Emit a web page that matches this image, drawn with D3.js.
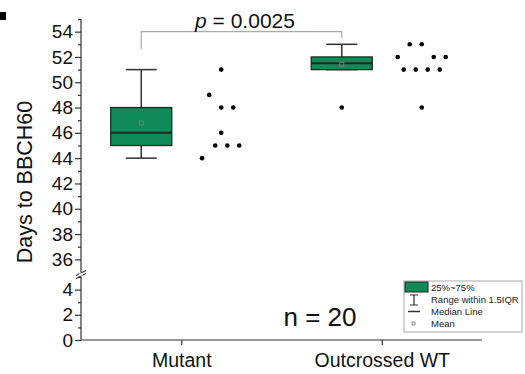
<!DOCTYPE html>
<html>
<head>
<meta charset="utf-8">
<script src="https://cdn.jsdelivr.net/npm/d3@7"></script>
<style>
  body { margin: 0; background: #fff; }
  svg { display: block; font-family: Arial, "Liberation Sans", sans-serif; }
</style>
</head>
<body>
<svg id="chart" width="525" height="374"></svg>
<script>
// Categories and raw observations (days to BBCH60)
const categories = ["Mutant", "Outcrossed WT"];
const mutantDays = [51, 49, 48, 48, 46, 45, 45, 45, 44];
const wtDays = [53, 53, 52, 52, 52, 51, 51, 51, 51, 48];
// Column slot of each point in the side scatter (same order as values)
const mutantSlots = [0, -1, 0, 1, 0, -0.5, 0.5, 1.5, -1.6];
const wtSlots = [-1, 0, -2, 1, 2, -1.5, -0.5, 0.5, 1.5, 0];
// Axis tick values for the two segments of the broken axis
const upperTicks = [36, 38, 40, 42, 44, 46, 48, 50, 52, 54];
const lowerTicks = [0, 2, 4];
const pLabel = "0.0025";
const nLabel = "n = 20";
const legendItems = ["25%~75%", "Range within 1.5IQR", "Median Line", "Mean"];

const groups = [
  { name: categories[0], values: mutantDays, slots: mutantSlots },
  { name: categories[1], values: wtDays, slots: wtSlots }
];

const svg = d3.select("#chart");
const GREEN = "#0f8a59";
const DARK = "#1c2b22";
const FONT = "Arial, 'Liberation Sans', sans-serif";

// Scales
const x = d3.scalePoint().domain(categories).range([81, 482]).padding(0.5);
const yUp = d3.scaleLinear().domain([35, 55]).range([272, 19]);
const yLo = d3.scaleLinear().domain([0, 5]).range([340, 277]);
const fmt = d3.format("d");

// Panel marker
svg.append("rect").attr("x", 0).attr("y", 12).attr("width", 6).attr("height", 8).attr("fill", "#000");

// Y axis, upper segment
const axUp = svg.append("g").attr("transform", "translate(81,0)")
  .call(d3.axisLeft(yUp).tickValues(upperTicks).tickFormat(fmt).tickSize(6).tickPadding(2).tickSizeOuter(0));
axUp.select(".domain").attr("d", `M0,${yUp(55)}V${yUp(35)}`);
svg.append("g").attr("transform", "translate(81,0)")
  .call(d3.axisLeft(yUp).tickValues(d3.range(37, 56, 2)).tickSize(3).tickFormat("").tickSizeOuter(0))
  .select(".domain").remove();

// Y axis, lower segment
const axLo = svg.append("g").attr("transform", "translate(81,0)")
  .call(d3.axisLeft(yLo).tickValues(lowerTicks).tickFormat(fmt).tickSize(6).tickPadding(2).tickSizeOuter(0));
axLo.select(".domain").attr("d", `M0,${yLo(5)}V${yLo(0)}`);
svg.append("g").attr("transform", "translate(81,0)")
  .call(d3.axisLeft(yLo).tickValues([1, 3, 5]).tickSize(3).tickFormat("").tickSizeOuter(0))
  .select(".domain").remove();

svg.selectAll(".tick text").attr("font-size", 19).attr("fill", "#111").attr("font-family", FONT);
svg.selectAll(".tick line, .domain").attr("stroke", "#333").attr("stroke-width", 1.2);

// Axis break marks
[yUp(35) + 1, yLo(5) - 1].forEach(yy => {
  svg.append("line").attr("x1", 76).attr("x2", 86).attr("y1", yy + 2.5).attr("y2", yy - 2.5)
    .attr("stroke", "#333").attr("stroke-width", 1.2);
});
svg.append("rect").attr("x", 79).attr("y", yUp(35) + 1.5).attr("width", 4).attr("height", yLo(5) - yUp(35) - 3).attr("fill", "#fff");

// X axis
const axX = svg.append("g").attr("transform", `translate(0,${yLo(0)})`)
  .call(d3.axisBottom(x).tickSize(5).tickSizeOuter(0).tickPadding(8));
axX.select(".domain").attr("d", "M81,0H482");
axX.selectAll("line, .domain").attr("stroke", "#333").attr("stroke-width", 1.2);
axX.selectAll("text").attr("font-size", 19.5).attr("fill", "#111").attr("font-family", FONT);

// Y axis title
svg.append("text").attr("transform", "translate(32,182) rotate(-90)")
  .attr("text-anchor", "middle").attr("font-size", 21.5).attr("fill", "#111")
  .text("Days to BBCH60");

// Box statistics
function stats(vals) {
  const s = vals.slice().sort(d3.ascending);
  const q1 = d3.quantile(s, 0.25), q3 = d3.quantile(s, 0.75);
  const med = d3.median(s), mean = d3.mean(s);
  const iqr = q3 - q1;
  const lo = d3.min(s.filter(v => v >= q1 - 1.5 * iqr));
  const hi = d3.max(s.filter(v => v <= q3 + 1.5 * iqr));
  const out = s.filter(v => v < lo || v > hi);
  return { q1, q3, med, mean, lo, hi, out };
}

const boxW = 61, capW = 31, boxShift = -40, dotShift = 40, slotW = 12;

groups.forEach(g => {
  const st = stats(g.values);
  const cx = x(g.name) + boxShift;
  const gg = svg.append("g");
  // whiskers
  gg.append("line").attr("x1", cx).attr("x2", cx).attr("y1", yUp(st.hi)).attr("y2", yUp(st.q3))
    .attr("stroke", "#333").attr("stroke-width", 1.5);
  gg.append("line").attr("x1", cx).attr("x2", cx).attr("y1", yUp(st.q1)).attr("y2", yUp(st.lo))
    .attr("stroke", "#333").attr("stroke-width", 1.5);
  gg.append("line").attr("x1", cx - capW / 2).attr("x2", cx + capW / 2).attr("y1", yUp(st.hi)).attr("y2", yUp(st.hi))
    .attr("stroke", "#333").attr("stroke-width", 1.5);
  gg.append("line").attr("x1", cx - capW / 2).attr("x2", cx + capW / 2).attr("y1", yUp(st.lo)).attr("y2", yUp(st.lo))
    .attr("stroke", "#333").attr("stroke-width", 1.5);
  // box
  gg.append("rect").attr("x", cx - boxW / 2).attr("y", yUp(st.q3)).attr("width", boxW)
    .attr("height", yUp(st.q1) - yUp(st.q3)).attr("fill", GREEN).attr("stroke", DARK).attr("stroke-width", 1.3);
  // median
  gg.append("line").attr("x1", cx - boxW / 2).attr("x2", cx + boxW / 2).attr("y1", yUp(st.med)).attr("y2", yUp(st.med))
    .attr("stroke", DARK).attr("stroke-width", 2);
  // mean
  gg.append("rect").attr("x", cx - 2).attr("y", yUp(st.mean) - 2).attr("width", 4).attr("height", 4)
    .attr("fill", "none").attr("stroke", "#6a8f7a").attr("stroke-width", 0.8);
  // outliers
  st.out.forEach(v => {
    gg.append("circle").attr("cx", cx).attr("cy", yUp(v)).attr("r", 2.3).attr("fill", "#000");
  });
  // raw data points
  gg.selectAll("circle.pt").data(g.values).join("circle").attr("class", "pt")
    .attr("cx", (d, i) => x(g.name) + dotShift + g.slots[i] * slotW)
    .attr("cy", d => yUp(d)).attr("r", 2.3).attr("fill", "#000");
});

// Significance bracket
const c1 = x(categories[0]) + boxShift, c2 = x(categories[1]) + boxShift;
const by = yUp(54);
svg.append("path")
  .attr("d", `M${c1},${yUp(52.6)}V${by}H${c2}V${yUp(53.5)}`)
  .attr("fill", "none").attr("stroke", "#aaa").attr("stroke-width", 1.2);
const pt = svg.append("text").attr("x", 245).attr("y", 28).attr("text-anchor", "middle")
  .attr("font-size", 21).attr("fill", "#111");
pt.append("tspan").attr("font-style", "italic").text("p");
pt.append("tspan").text(" = " + pLabel);

// Sample size
svg.append("text").attr("x", 320).attr("y", 326).attr("text-anchor", "middle")
  .attr("font-size", 26).attr("fill", "#111").text(nLabel);

// Legend
const lg = svg.append("g");
lg.append("rect").attr("x", 404).attr("y", 281).attr("width", 118).attr("height", 51)
  .attr("fill", "#fff").attr("stroke", "#aaa").attr("stroke-width", 1);
lg.append("rect").attr("x", 405).attr("y", 282).attr("width", 23).attr("height", 10)
  .attr("fill", GREEN).attr("stroke", DARK).attr("stroke-width", 1);
lg.append("path").attr("d", "M410,295H418M414,295V305M410,305H418")
  .attr("fill", "none").attr("stroke", "#333").attr("stroke-width", 1.2);
lg.append("line").attr("x1", 408).attr("x2", 420).attr("y1", 311.5).attr("y2", 311.5)
  .attr("stroke", "#333").attr("stroke-width", 1.5);
lg.append("rect").attr("x", 412).attr("y", 322).attr("width", 3).attr("height", 3)
  .attr("fill", "none").attr("stroke", "#777").attr("stroke-width", 0.8);
lg.selectAll("text.li").data(legendItems).join("text").attr("class", "li")
  .attr("x", 431).attr("y", (d, i) => 291 + i * 12)
  .attr("font-size", 9.5).attr("fill", "#222").text(d => d);
</script>
</body>
</html>
